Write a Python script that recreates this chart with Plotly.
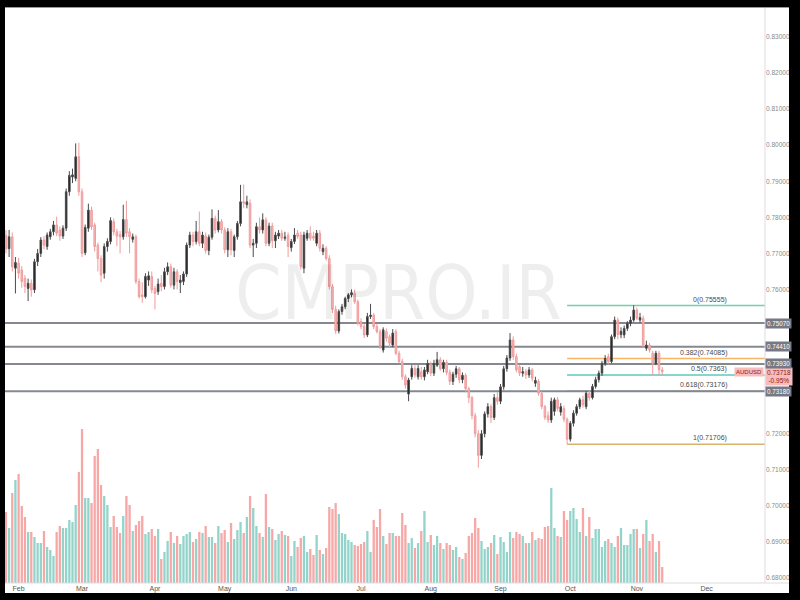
import pandas as pd
import plotly.graph_objects as go

# ---------------- data (AUDUSD daily) ----------------
start_date = "2021-01-26"

opens = [
0.7750,0.7713,0.7746,0.7659,0.7673,0.7654,0.7631,0.7603,0.7617,0.7599,
0.7677,0.7700,0.7737,0.7719,0.7746,0.7760,0.7779,0.7765,0.7748,0.7770,
0.7871,0.7912,0.7908,0.7968,0.7871,0.7702,0.7770,0.7820,0.7779,0.7723,
0.7686,0.7645,0.7719,0.7733,0.7788,0.7760,0.7752,0.7746,0.7794,0.7760,
0.7739,0.7746,0.7622,0.7585,0.7580,0.7626,0.7636,0.7603,0.7594,0.7617,
0.7608,0.7649,0.7663,0.7612,0.7649,0.7619,0.7622,0.7643,0.7723,0.7751,
0.7733,0.7760,0.7728,0.7748,0.7708,0.7745,0.7797,0.7765,0.7788,0.7765,
0.7710,0.7760,0.7708,0.7746,0.7783,0.7843,0.7835,0.7839,0.7723,0.7728,
0.7774,0.7765,0.7793,0.7728,0.7776,0.7735,0.7748,0.7756,0.7742,0.7750,
0.7716,0.7733,0.7756,0.7751,0.7659,0.7742,0.7756,0.7748,0.7728,0.7756,
0.7705,0.7714,0.7686,0.7608,0.7545,0.7485,0.7539,0.7552,0.7575,0.7585,
0.7589,0.7566,0.7511,0.7497,0.7474,0.7525,0.7529,0.7497,0.7483,0.7432,
0.7483,0.7469,0.7446,0.7483,0.7423,0.7400,0.7358,0.7310,0.7358,0.7381,
0.7358,0.7372,0.7358,0.7372,0.7391,0.7368,0.7390,0.7405,0.7380,0.7398,
0.7370,0.7345,0.7365,0.7380,0.7350,0.7362,0.7325,0.7300,0.7250,0.7200,
0.7140,0.7200,0.7255,0.7275,0.7245,0.7300,0.7290,0.7330,0.7380,0.7410,
0.7460,0.7414,0.7386,0.7368,0.7372,0.7363,0.7377,0.7340,0.7345,0.7312,
0.7275,0.7250,0.7238,0.7262,0.7294,0.7260,0.7270,0.7240,0.7185,0.7229,
0.7257,0.7275,0.7294,0.7275,0.7312,0.7300,0.7331,0.7350,0.7368,0.7395,
0.7414,0.7400,0.7469,0.7515,0.7475,0.7474,0.7492,0.7506,0.7515,0.7543,
0.7515,0.7520,0.7437,0.7446,0.7423,0.7395,0.7423,0.7377]

highs = [
0.7765,0.7765,0.7758,0.7690,0.7688,0.7665,0.7640,0.7630,0.7628,0.7685,
0.7712,0.7745,0.7748,0.7758,0.7768,0.7790,0.7802,0.7775,0.7778,0.7880,
0.7928,0.7935,0.8005,0.8007,0.7880,0.7780,0.7838,0.7830,0.7785,0.7730,
0.7695,0.7728,0.7742,0.7800,0.7797,0.7768,0.7762,0.7835,0.7846,0.7770,
0.7755,0.7752,0.7630,0.7620,0.7645,0.7650,0.7650,0.7610,0.7630,0.7640,
0.7660,0.7675,0.7672,0.7660,0.7656,0.7640,0.7650,0.7730,0.7760,0.7760,
0.7790,0.7816,0.7760,0.7758,0.7752,0.7822,0.7805,0.7820,0.7795,0.7772,
0.7770,0.7768,0.7752,0.7790,0.7890,0.7891,0.7860,0.7850,0.7740,0.7785,
0.7800,0.7811,0.7800,0.7785,0.7785,0.7760,0.7765,0.7765,0.7760,0.7758,
0.7740,0.7770,0.7765,0.7760,0.7760,0.7765,0.7775,0.7760,0.7765,0.7765,
0.7725,0.7720,0.7695,0.7615,0.7555,0.7545,0.7560,0.7580,0.7590,0.7600,
0.7600,0.7572,0.7520,0.7505,0.7535,0.7560,0.7535,0.7505,0.7490,0.7495,
0.7492,0.7475,0.7490,0.7490,0.7430,0.7408,0.7365,0.7355,0.7390,0.7390,
0.7390,0.7385,0.7385,0.7405,0.7400,0.7405,0.7427,0.7412,0.7405,0.7405,
0.7378,0.7372,0.7388,0.7385,0.7370,0.7368,0.7330,0.7305,0.7258,0.7210,
0.7210,0.7262,0.7285,0.7282,0.7310,0.7315,0.7338,0.7388,0.7418,0.7479,
0.7470,0.7422,0.7392,0.7385,0.7380,0.7385,0.7382,0.7358,0.7352,0.7318,
0.7280,0.7262,0.7300,0.7300,0.7302,0.7285,0.7278,0.7245,0.7235,0.7265,
0.7282,0.7300,0.7305,0.7318,0.7320,0.7338,0.7358,0.7375,0.7402,0.7418,
0.7422,0.7475,0.7525,0.7522,0.7495,0.7500,0.7512,0.7525,0.7556,0.7550,
0.7535,0.7528,0.7458,0.7452,0.7430,0.7430,0.7430,0.7385]

lows = [
0.7700,0.7690,0.7650,0.7589,0.7630,0.7605,0.7590,0.7568,0.7580,0.7590,
0.7665,0.7690,0.7712,0.7710,0.7738,0.7750,0.7748,0.7735,0.7740,0.7762,
0.7860,0.7895,0.7900,0.7860,0.7690,0.7695,0.7760,0.7765,0.7705,0.7650,
0.7620,0.7630,0.7705,0.7725,0.7750,0.7720,0.7700,0.7738,0.7745,0.7700,
0.7730,0.7615,0.7575,0.7563,0.7575,0.7610,0.7590,0.7545,0.7585,0.7595,
0.7600,0.7640,0.7605,0.7600,0.7600,0.7590,0.7612,0.7635,0.7715,0.7720,
0.7725,0.7720,0.7715,0.7700,0.7695,0.7738,0.7755,0.7758,0.7755,0.7700,
0.7690,0.7695,0.7690,0.7738,0.7775,0.7825,0.7825,0.7715,0.7690,0.7715,
0.7755,0.7755,0.7720,0.7720,0.7715,0.7715,0.7740,0.7735,0.7735,0.7690,
0.7705,0.7726,0.7740,0.7655,0.7645,0.7735,0.7735,0.7735,0.7720,0.7705,
0.7695,0.7680,0.7600,0.7535,0.7477,0.7478,0.7530,0.7545,0.7565,0.7578,
0.7560,0.7500,0.7490,0.7465,0.7468,0.7518,0.7490,0.7478,0.7435,0.7425,
0.7455,0.7440,0.7440,0.7418,0.7395,0.7350,0.7325,0.7290,0.7350,0.7355,
0.7350,0.7350,0.7348,0.7365,0.7360,0.7360,0.7385,0.7375,0.7370,0.7362,
0.7335,0.7335,0.7355,0.7340,0.7340,0.7315,0.7285,0.7240,0.7190,0.7106,
0.7130,0.7190,0.7245,0.7230,0.7238,0.7280,0.7282,0.7322,0.7372,0.7402,
0.7405,0.7370,0.7360,0.7358,0.7352,0.7355,0.7345,0.7330,0.7305,0.7268,
0.7238,0.7230,0.7230,0.7250,0.7262,0.7250,0.7232,0.7171,0.7178,0.7220,
0.7250,0.7268,0.7272,0.7268,0.7292,0.7295,0.7325,0.7342,0.7360,0.7388,
0.7392,0.7395,0.7462,0.7462,0.7465,0.7465,0.7485,0.7498,0.7510,0.7515,
0.7508,0.7440,0.7430,0.7425,0.7362,0.7390,0.7362,0.7360]

closes = [
0.7713,0.7746,0.7663,0.7675,0.7645,0.7622,0.7608,0.7617,0.7599,0.7677,
0.7700,0.7737,0.7723,0.7751,0.7760,0.7779,0.7756,0.7748,0.7770,0.7871,
0.7916,0.7918,0.7968,0.7871,0.7700,0.7772,0.7820,0.7774,0.7719,0.7686,
0.7640,0.7719,0.7733,0.7791,0.7760,0.7748,0.7746,0.7794,0.7756,0.7746,
0.7746,0.7622,0.7580,0.7580,0.7636,0.7638,0.7599,0.7589,0.7615,0.7608,
0.7649,0.7663,0.7612,0.7649,0.7622,0.7626,0.7643,0.7723,0.7751,0.7733,
0.7760,0.7728,0.7751,0.7708,0.7745,0.7797,0.7765,0.7788,0.7765,0.7710,
0.7760,0.7710,0.7746,0.7783,0.7843,0.7839,0.7843,0.7723,0.7728,0.7774,
0.7765,0.7793,0.7728,0.7776,0.7735,0.7751,0.7756,0.7742,0.7745,0.7719,
0.7733,0.7751,0.7747,0.7663,0.7751,0.7756,0.7742,0.7742,0.7756,0.7714,
0.7714,0.7686,0.7608,0.7545,0.7485,0.7539,0.7552,0.7575,0.7585,0.7591,
0.7566,0.7506,0.7497,0.7474,0.7525,0.7529,0.7497,0.7483,0.7442,0.7488,
0.7465,0.7451,0.7479,0.7423,0.7400,0.7358,0.7335,0.7349,0.7381,0.7363,
0.7381,0.7358,0.7377,0.7395,0.7368,0.7395,0.7405,0.7380,0.7398,0.7370,
0.7345,0.7365,0.7380,0.7350,0.7362,0.7325,0.7300,0.7250,0.7200,0.7140,
0.7200,0.7255,0.7275,0.7245,0.7300,0.7290,0.7330,0.7380,0.7410,0.7460,
0.7414,0.7377,0.7368,0.7372,0.7363,0.7377,0.7354,0.7348,0.7312,0.7275,
0.7245,0.7238,0.7290,0.7294,0.7270,0.7275,0.7240,0.7185,0.7229,0.7257,
0.7275,0.7294,0.7280,0.7312,0.7300,0.7331,0.7350,0.7368,0.7395,0.7409,
0.7400,0.7469,0.7515,0.7475,0.7484,0.7492,0.7506,0.7515,0.7543,0.7520,
0.7522,0.7446,0.7446,0.7432,0.7395,0.7423,0.7377,0.73718]

volumes = [
71,55,90,103,109,77,66,51,51,46,
40,40,52,36,33,27,51,57,55,55,
63,61,78,111,154,85,85,80,127,134,
98,87,78,56,67,56,50,67,87,78,
52,58,62,67,49,51,54,47,54,24,
31,42,51,40,47,39,47,49,51,41,
44,51,50,57,46,46,40,57,50,53,
41,60,44,53,61,50,66,87,75,57,
50,46,89,56,54,43,49,52,48,47,
27,42,36,45,47,31,34,28,48,33,
29,35,76,74,80,69,50,49,43,41,
38,37,39,41,52,31,63,56,74,47,
39,50,50,47,47,70,58,40,45,35,
40,52,72,41,48,38,47,40,34,40,
38,33,36,26,24,30,47,50,65,55,
42,34,36,40,48,29,46,41,31,51,
45,51,49,47,40,40,51,43,45,44,
56,57,95,55,47,46,72,63,72,75,
64,51,75,47,66,45,54,54,36,42,
44,40,36,47,55,38,38,49,54,54,
35,49,63,42,49,31,42,16]

month_ticks = ["2021-02-01", "2021-03-01", "2021-04-01", "2021-05-03", "2021-06-01",
               "2021-07-01", "2021-08-02", "2021-09-01", "2021-10-01", "2021-11-01",
               "2021-12-01"]
month_labels = ["Feb", "Mar", "Apr", "May", "Jun", "Jul", "Aug", "Sep", "Oct", "Nov", "Dec"]
# price scale labels that are visible (0.73-0.75 are hidden behind the level tags)
price_ticks = [0.68, 0.69, 0.70, 0.71, 0.72, 0.76, 0.77, 0.78, 0.79,
               0.80, 0.81, 0.82, 0.83]

level_values = [0.75070, 0.74410, 0.73930, 0.73180]
level_labels = ["0.75070", "0.74410", "0.73930", "0.73180"]

fib_values = [0.75555, 0.74085, 0.7363, 0.73176, 0.71706]
fib_labels = ["0(0.75555)", "0.382(0.74085)", "0.5(0.7363)", "0.618(0.73176)", "1(0.71706)"]
fib_start_index = 177

symbol = "AUDUSD"
last_price = 0.73718
last_price_text = "0.73718"
last_change_text = "-0.95%"
watermark = "CMPRO.IR"

# ---------------- geometry helpers ----------------
W, H = 800, 600
ML, MR, MT, MB = 5, 35, 7, 17
PW, PH = W - ML - MR, H - MT - MB


def px_x(p):
    return (p - ML) / PW


def px_y(p):
    return (H - MB - p) / PH


dates = pd.bdate_range(start_date, periods=len(closes))

UP_BODY, UP_LINE = "#1b1b1b", "#4a4a4a"
DN_BODY, DN_LINE = "#f6b9b9", "#ef9c9c"
VOL_UP, VOL_DN = "#92d3ca", "#f6a7a6"
vol_colors = [VOL_UP if c >= o else VOL_DN for o, c in zip(opens, closes)]

fig = go.Figure()

fig.add_trace(go.Bar(
    x=dates, y=volumes, marker=dict(color=vol_colors, line=dict(width=0)),
    yaxis="y", hoverinfo="skip", showlegend=False))

fig.add_trace(go.Candlestick(
    x=dates, open=opens, high=highs, low=lows, close=closes,
    yaxis="y2",
    increasing=dict(fillcolor=UP_BODY, line=dict(color=UP_LINE, width=1)),
    decreasing=dict(fillcolor=DN_BODY, line=dict(color=DN_LINE, width=1)),
    whiskerwidth=0, showlegend=False))

FONT = "Liberation Sans, Arial, sans-serif"

shapes = []
for v in level_values:
    shapes.append(dict(type="line", xref="paper", x0=0, x1=1, yref="y2", y0=v, y1=v,
                       line=dict(color="#85888f", width=2), layer="below"))

fib_colors = ["#6fd3a8", "#f7b565", "#5cc8bd", "#85888f", "#d9b36b"]
for v, col in zip(fib_values, fib_colors):
    shapes.append(dict(type="line", xref="x", x0=dates[fib_start_index], x1="2022-02-01",
                       yref="y2", y0=v, y1=v, line=dict(color=col, width=1.5), layer="below"))

# pane separators
shapes.append(dict(type="line", xref="paper", yref="paper", x0=1, x1=1, y0=0, y1=1,
                   line=dict(color="#dcdde2", width=1)))
shapes.append(dict(type="line", xref="paper", yref="paper", x0=0, x1=px_x(789), y0=0, y1=0,
                   line=dict(color="#dcdde2", width=1)))
shapes.append(dict(type="line", xref="paper", yref="paper", x0=0, x1=px_x(789),
                   y0=px_y(7.5), y1=px_y(7.5), line=dict(color="#9a9a9a", width=1)))

# black frame around the screenshot
for x0, x1, y0, y1 in [(0, 5, 0, 600), (0, 800, 0, 7), (789, 800, 0, 600), (0, 800, 593, 600)]:
    shapes.append(dict(type="rect", xref="paper", yref="paper",
                       x0=px_x(x0), x1=px_x(x1), y0=px_y(y1), y1=px_y(y0),
                       fillcolor="black", line=dict(width=0), layer="above"))

annotations = []
annotations.append(dict(xref="paper", yref="paper", x=px_x(398), y=px_y(293),
                        text=watermark, showarrow=False,
                        font=dict(family="DejaVu Sans Condensed, Liberation Sans, Arial", size=74,
                                  color="rgba(0,0,0,0.065)")))

for v, t in zip(fib_values, fib_labels):
    annotations.append(dict(xref="paper", yref="y2", x=px_x(729), y=v, xanchor="right",
                            yanchor="bottom", text=t, showarrow=False,
                            font=dict(family=FONT, size=7, color="#4a4a4a")))

# last price tag (drawn first so the level tags stay on top)
annotations.append(dict(xref="paper", yref="y2", x=px_x(765), y=last_price, xanchor="left",
                        yanchor="top", yshift=5, showarrow=False, align="center",
                        text=last_price_text + "<br>" + last_change_text,
                        bgcolor="#f8bcbc", borderpad=1,
                        font=dict(family=FONT, size=6.5, color="#8e2020")))
annotations.append(dict(xref="paper", yref="y2", x=px_x(764), y=last_price, xanchor="right",
                        yanchor="middle", showarrow=False, text=symbol,
                        bgcolor="#f8bcbc", borderpad=1,
                        font=dict(family=FONT, size=6, color="#8e2020")))

for v, t in zip(level_values, level_labels):
    annotations.append(dict(xref="paper", yref="y2", x=px_x(765), y=v, xanchor="left",
                            yanchor="middle", text=t, showarrow=False,
                            bgcolor="#767983", borderpad=1, yshift=1 if t == "0.73930" else 0,
                            font=dict(family=FONT, size=6.3, color="white")))

fig.update_layout(
    width=W, height=H,
    margin=dict(l=ML, r=MR, t=MT, b=MB, pad=0),
    paper_bgcolor="white", plot_bgcolor="white",
    showlegend=False, bargap=0.28,
    font=dict(family=FONT, size=7, color="#555"),
    xaxis=dict(type="date", range=["2021-01-25 17:00", "2021-12-27 10:00"],
               rangebreaks=[dict(bounds=["sat", "mon"])],
               tickvals=month_ticks, ticktext=month_labels,
               tickfont=dict(size=7, color="#555"), ticks="",
               showgrid=False, zeroline=False, showline=False,
               rangeslider=dict(visible=False)),
    yaxis=dict(range=[0, PH], visible=False, fixedrange=True),
    yaxis2=dict(overlaying="y", side="right", range=[0.67861, 0.83832],
                tickvals=price_ticks, tickformat=".5f", ticks="",
                tickfont=dict(size=6.5, color="#8a8a8a"),
                showgrid=False, zeroline=False, showline=False),
    shapes=shapes, annotations=annotations,
)

fig.write_html("out.html", config={"displayModeBar": False},
               post_script="document.body.style.margin='0px';"
                           "document.body.style.overflow='hidden';")
